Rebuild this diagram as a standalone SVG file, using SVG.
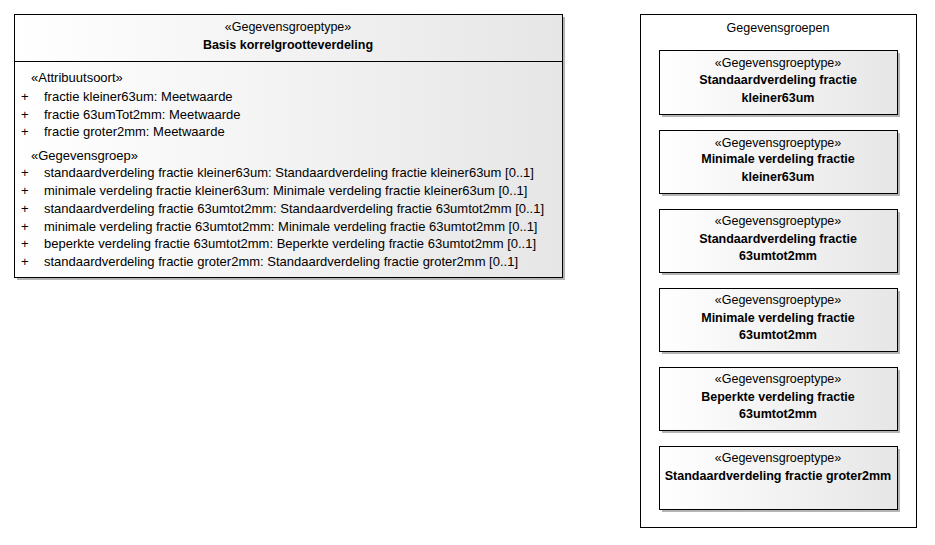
<svg xmlns="http://www.w3.org/2000/svg" width="935" height="545" viewBox="0 0 935 545">
<defs>
<linearGradient id="g" x1="0" y1="0" x2="1" y2="0">
<stop offset="0" stop-color="#ffffff"/>
<stop offset="1" stop-color="#e6e6e6"/>
</linearGradient>
</defs>
<style>
text{font-family:"Liberation Sans",Arial,sans-serif;font-size:12.5px;fill:#000}
.r{font-size:13px}
.b{font-weight:bold}
.c{text-anchor:middle}
.box{fill:url(#g);stroke:#000;stroke-width:1}
.sh{fill:#b4b4b4}
.pkg{fill:#fff;stroke:#000;stroke-width:1}
</style>
<rect width="935" height="545" fill="#fff"/>
<g id="basis">
<rect class="sh" x="17" y="17" width="548" height="263"/>
<rect class="box" x="14.5" y="14.5" width="548" height="263"/>
<line x1="14.5" y1="61.5" x2="562.5" y2="61.5" stroke="#000"/>
<text class="c" x="288" y="31">«Gegevensgroeptype»</text>
<text class="c b" x="288" y="49">Basis korrelgrootteverdeling</text>
<text class="r" x="31" y="82">«Attribuutsoort»</text>
<text class="r" x="21" y="101">+</text><text class="r" x="44" y="101">fractie kleiner63um: Meetwaarde</text>
<text class="r" x="21" y="119">+</text><text class="r" x="44" y="119">fractie 63umTot2mm: Meetwaarde</text>
<text class="r" x="21" y="136">+</text><text class="r" x="44" y="136">fractie groter2mm: Meetwaarde</text>
<text class="r" x="31" y="160">«Gegevensgroep»</text>
<text class="r" x="21" y="177">+</text><text class="r" x="44" y="177">standaardverdeling fractie kleiner63um: Standaardverdeling fractie kleiner63um [0..1]</text>
<text class="r" x="21" y="195">+</text><text class="r" x="44" y="195">minimale verdeling fractie kleiner63um: Minimale verdeling fractie kleiner63um [0..1]</text>
<text class="r" x="21" y="213">+</text><text class="r" x="44" y="213">standaardverdeling fractie 63umtot2mm: Standaardverdeling fractie 63umtot2mm [0..1]</text>
<text class="r" x="21" y="231">+</text><text class="r" x="44" y="231">minimale verdeling fractie 63umtot2mm: Minimale verdeling fractie 63umtot2mm [0..1]</text>
<text class="r" x="21" y="248">+</text><text class="r" x="44" y="248">beperkte verdeling fractie 63umtot2mm: Beperkte verdeling fractie 63umtot2mm [0..1]</text>
<text class="r" x="21" y="266">+</text><text class="r" x="44" y="266">standaardverdeling fractie groter2mm: Standaardverdeling fractie groter2mm [0..1]</text>
</g>
<g id="gegevensgroepen">
<rect class="pkg" x="640.5" y="14.5" width="276" height="513"/>
<text class="c" x="778" y="32">Gegevensgroepen</text>
</g>
<g id="n1">
<rect class="sh" x="662" y="53" width="238" height="64"/>
<rect class="box" x="659.5" y="50.5" width="238" height="64"/>
<text class="c" x="778" y="67">«Gegevensgroeptype»</text>
<text class="c b" x="778" y="84">Standaardverdeling fractie</text>
<text class="c b" x="778" y="102">kleiner63um</text>
</g>
<g id="n2">
<rect class="sh" x="662" y="133" width="238" height="63"/>
<rect class="box" x="659.5" y="130.5" width="238" height="63"/>
<text class="c" x="778" y="147">«Gegevensgroeptype»</text>
<text class="c b" x="778" y="163">Minimale verdeling fractie</text>
<text class="c b" x="778" y="181">kleiner63um</text>
</g>
<g id="n3">
<rect class="sh" x="662" y="212" width="238" height="63"/>
<rect class="box" x="659.5" y="209.5" width="238" height="63"/>
<text class="c" x="778" y="225">«Gegevensgroeptype»</text>
<text class="c b" x="778" y="243">Standaardverdeling fractie</text>
<text class="c b" x="778" y="260">63umtot2mm</text>
</g>
<g id="n4">
<rect class="sh" x="662" y="291" width="238" height="63"/>
<rect class="box" x="659.5" y="288.5" width="238" height="63"/>
<text class="c" x="778" y="304">«Gegevensgroeptype»</text>
<text class="c b" x="778" y="322">Minimale verdeling fractie</text>
<text class="c b" x="778" y="339">63umtot2mm</text>
</g>
<g id="n5">
<rect class="sh" x="662" y="370" width="238" height="63"/>
<rect class="box" x="659.5" y="367.5" width="238" height="63"/>
<text class="c" x="778" y="383">«Gegevensgroeptype»</text>
<text class="c b" x="778" y="401">Beperkte verdeling fractie</text>
<text class="c b" x="778" y="418">63umtot2mm</text>
</g>
<g id="n6">
<rect class="sh" x="662" y="449" width="238" height="63"/>
<rect class="box" x="659.5" y="446.5" width="238" height="63"/>
<text class="c" x="778" y="462">«Gegevensgroeptype»</text>
<text class="c b" x="778" y="480">Standaardverdeling fractie groter2mm</text>
</g>
<g id="connectors"/>
</svg>
